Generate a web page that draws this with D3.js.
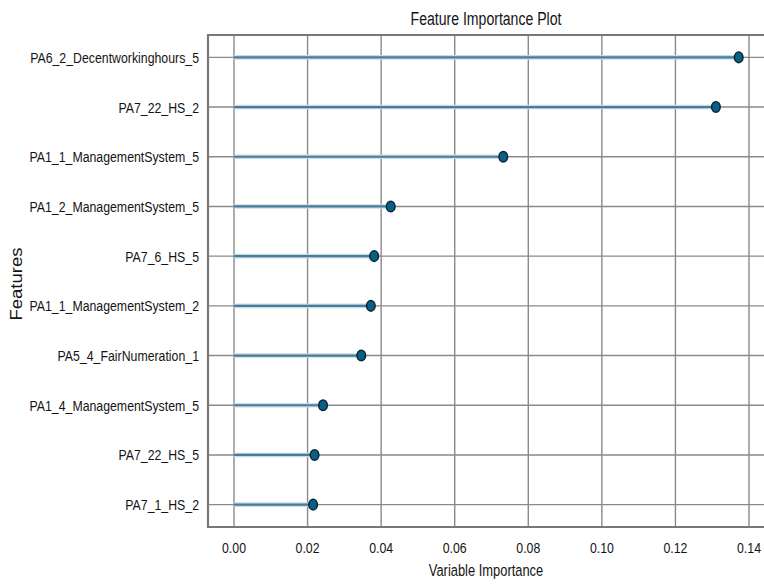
<!DOCTYPE html>
<html>
<head>
<meta charset="utf-8">
<script src="https://cdn.jsdelivr.net/npm/d3@7"></script>
<style>
  html, body { margin: 0; padding: 0; background: #fff; }
  svg { display: block; }
  text { font-family: "Liberation Sans", Arial, sans-serif; fill: #141414; }
</style>
</head>
<body>
<svg id="chart" width="764" height="584"></svg>
<script>
// Feature names, top to bottom
const features = [
  "PA6_2_Decentworkinghours_5",
  "PA7_22_HS_2",
  "PA1_1_ManagementSystem_5",
  "PA1_2_ManagementSystem_5",
  "PA7_6_HS_5",
  "PA1_1_ManagementSystem_2",
  "PA5_4_FairNumeration_1",
  "PA1_4_ManagementSystem_5",
  "PA7_22_HS_5",
  "PA7_1_HS_2"
];
// Importance value for each feature
const importance = [0.1372, 0.1310, 0.0732, 0.0426, 0.0381, 0.0372, 0.0346, 0.0242, 0.0219, 0.0215];
// x-axis ticks
const xTicks = [0, 0.02, 0.04, 0.06, 0.08, 0.10, 0.12, 0.14];

const plot = { left: 208, top: 35, bottom: 527, right: 790 };
const sx = 0.88, sy = 1.1; // narrow, tall lettering

const svg = d3.select("#chart");

const x = d3.scaleLinear().domain([0, 0.14]).range([234, 749]);
const y = d3.scalePoint().domain(features).range([plot.top, plot.bottom]).padding(0.45);

function label(g, txt, tx, ty, size, anchor, scaleX, scaleY, rot) {
  return g.append("text")
    .attr("transform", `translate(${tx},${ty})` + (rot ? ` rotate(${rot})` : "") + ` scale(${scaleX},${scaleY})`)
    .attr("text-anchor", anchor)
    .attr("font-size", size)
    .text(txt);
}

// grid: vertical lines at ticks
const grid = svg.append("g");
grid.selectAll("line.v").data(xTicks).join("line")
  .attr("class", "v")
  .attr("x1", d => x(d)).attr("x2", d => x(d))
  .attr("y1", plot.top).attr("y2", plot.bottom)
  .attr("stroke", "#8a8a8a").attr("stroke-width", 1.4);
// horizontal lines at each feature row
grid.selectAll("line.h").data(features).join("line")
  .attr("class", "h")
  .attr("x1", plot.left).attr("x2", plot.right)
  .attr("y1", d => y(d)).attr("y2", d => y(d))
  .attr("stroke", "#8a8a8a").attr("stroke-width", 1.4);

// frame
svg.append("path")
  .attr("d", `M${plot.right},${plot.top}H${plot.left}V${plot.bottom}H${plot.right}`)
  .attr("fill", "none").attr("stroke", "#787878").attr("stroke-width", 2.2);

// lollipop stems
const rows = features.map((f, i) => ({ f, v: importance[i] }));
const marks = svg.append("g");
marks.selectAll("line.halo").data(rows).join("line")
  .attr("class", "halo")
  .attr("x1", x(0)).attr("x2", d => x(d.v))
  .attr("y1", d => y(d.f)).attr("y2", d => y(d.f))
  .attr("stroke", "#c6dce8").attr("stroke-width", 4.6);
marks.selectAll("line.stem").data(rows).join("line")
  .attr("class", "stem")
  .attr("x1", x(0)).attr("x2", d => x(d.v))
  .attr("y1", d => y(d.f)).attr("y2", d => y(d.f))
  .attr("stroke", "#4a7b97").attr("stroke-width", 2.2);
// dots
marks.selectAll("ellipse").data(rows).join("ellipse")
  .attr("cx", d => x(d.v)).attr("cy", d => y(d.f))
  .attr("rx", 4.3).attr("ry", 5.3)
  .attr("fill", "#0a5f86").attr("stroke", "#0c2434").attr("stroke-width", 1.5);

// y tick labels
const ylab = svg.append("g");
features.forEach(f => label(ylab, f, 199, y(f) + 5.5, 14, "end", sx, sy));

// x tick labels
const xlab = svg.append("g");
xTicks.forEach(t => label(xlab, d3.format(".2f")(t), x(t), 553, 14, "middle", sx, sy));

// titles
label(svg, "Feature Importance Plot", 486, 25, 16, "middle", sx, sy);
label(svg, "Variable Importance", 486, 576, 15, "middle", 0.86, sy);
label(svg, "Features", 22, 284, 16, "middle", 1.16, 1, -90);
</script>
</body>
</html>
